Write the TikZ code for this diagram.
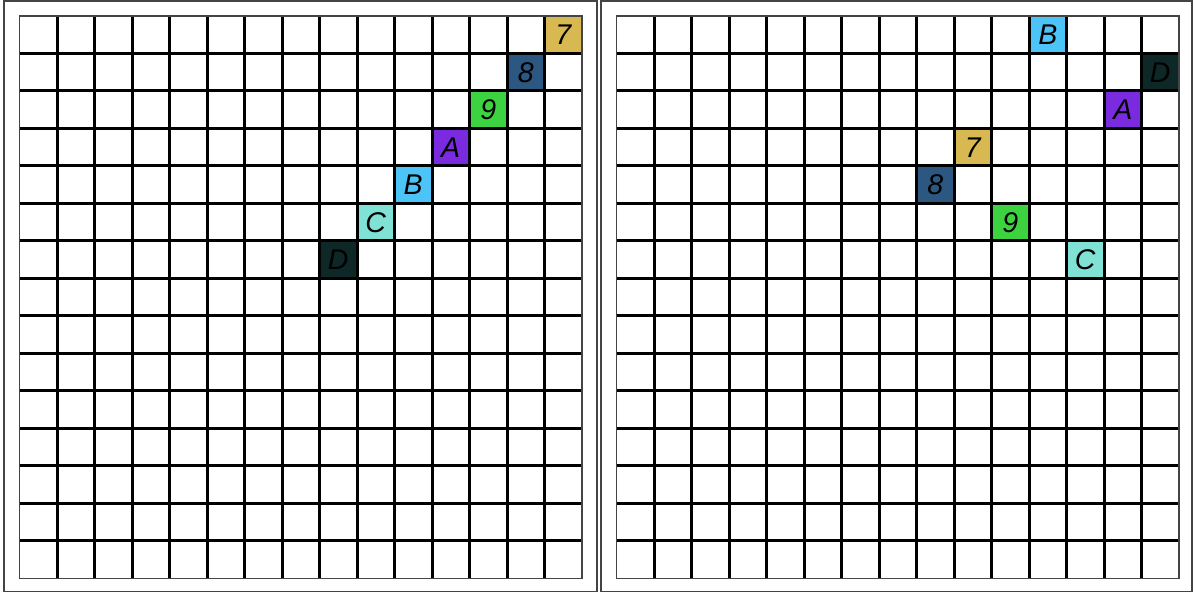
\documentclass[tikz,border=0pt]{standalone}
\usepackage{fontspec}
\setmainfont{Liberation Sans}
\definecolor{c7}{HTML}{D8B850}
\definecolor{c8}{HTML}{2B5780}
\definecolor{c9}{HTML}{3CD240}
\definecolor{cA}{HTML}{7A2BE0}
\definecolor{cB}{HTML}{4CC4F8}
\definecolor{cC}{HTML}{80E2D4}
\definecolor{cD}{HTML}{0D2826}
\definecolor{edge}{HTML}{444444}
\begin{document}
\begin{tikzpicture}[x=1pt,y=-1pt,
  frame/.style={draw=edge,line width=1.5pt},
  gridline/.style={draw=black,line width=3pt},
  gridborder/.style={draw=edge,line width=1.5pt},
  cell/.style={minimum size=37.5pt,inner sep=0pt,draw=none,
    font=\fontsize{28.5}{28.5}\selectfont\itshape,text=black}]
\useasboundingbox (0,0) rectangle (1195,593);
\fill[white] (0,0) rectangle (1195,593);
\draw[frame] (4,1) rectangle (597,591.5);
\draw[frame] (601,1) rectangle (1192,591.5);
% left panel cells
\node[cell,fill=c7] (L7) at (563.25,34.75) {7};
\node[cell,fill=c8] (L8) at (525.75,72.25) {8};
\node[cell,fill=c9] (L9) at (488.25,109.75) {9};
\node[cell,fill=cA] (LA) at (450.75,147.25) {A};
\node[cell,fill=cB] (LB) at (413.25,184.75) {B};
\node[cell,fill=cC] (LC) at (375.75,222.25) {C};
\node[cell,fill=cD] (LD) at (338.25,259.75) {D};
% right panel cells
\node[cell,fill=cB] (RB) at (1047.75,34.75) {B};
\node[cell,fill=cD] (RD) at (1160.25,72.25) {D};
\node[cell,fill=cA] (RA) at (1122.75,109.75) {A};
\node[cell,fill=c7] (R7) at (972.75,147.25) {7};
\node[cell,fill=c8] (R8) at (935.25,184.75) {8};
\node[cell,fill=c9] (R9) at (1010.25,222.25) {9};
\node[cell,fill=cC] (RC) at (1085.25,259.75) {C};
% grids
\foreach \ox in {19.5,616.5}{
  \foreach \i in {1,...,14}{
    \draw[gridline] ({\ox+37.5*\i},16) -- ({\ox+37.5*\i},578.5);
    \draw[gridline] (\ox,{16+37.5*\i}) -- ({\ox+562.5},{16+37.5*\i});
  }
  \draw[gridborder] (\ox,16) rectangle ({\ox+562.5},578.5);
}
\end{tikzpicture}
\end{document}
